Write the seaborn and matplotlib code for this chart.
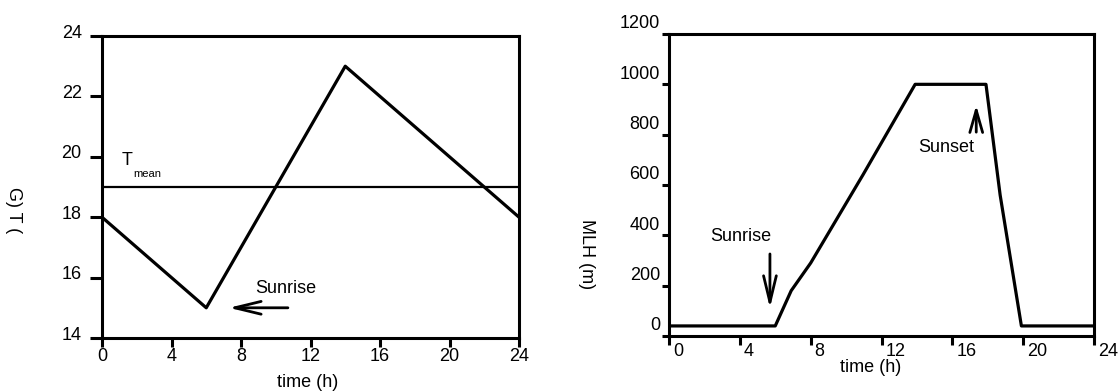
import matplotlib
matplotlib.use("Agg")
import seaborn as sns
import matplotlib.pyplot as plt
import matplotlib.transforms as mtransforms

# left panel: air temperature over the day
hours = list(range(25))
temp = [18, 17.5, 17, 16.5, 16, 15.5, 15, 16, 17, 18, 19, 20, 21, 22, 23,
        22.5, 22, 21.5, 21, 20.5, 20, 19.5, 19, 18.5, 18]
t_mean = 19

# right panel: mixing layer height
mlh_time = [0, 6.0, 6.9, 8.0, 10.95, 13.9, 17.9, 18.7, 19.9, 24]
mlh = [40, 40, 180, 290, 640, 1000, 1000, 560, 40, 40]

x_ticks = [0, 4, 8, 12, 16, 20, 24]
t_ticks = [14, 16, 18, 20, 22, 24]
mlh_ticks = [0, 200, 400, 600, 800, 1000, 1200]

sns.set_style("ticks")
plt.rcParams['font.family'] = ['Liberation Sans', 'DejaVu Sans']
for k in ('text.color', 'axes.labelcolor', 'xtick.color', 'ytick.color'):
    plt.rcParams[k] = 'black'

FS = 13
W, H = 1118, 391
fig = plt.figure(figsize=(W / 100, H / 100), dpi=100)
ax1 = fig.add_axes([102 / W, 1 - 338 / H, 417 / W, 302 / H])
ax2 = fig.add_axes([669 / W, 1 - 336 / H, 425 / W, 302 / H])


def shift(labels, dx, dy):
    off = mtransforms.ScaledTranslation(dx / 100, dy / 100, fig.dpi_scale_trans)
    for lab in labels:
        lab.set_transform(lab.get_transform() + off)


for ax in (ax1, ax2):
    for sp in ax.spines.values():
        sp.set_linewidth(2.2)
        sp.set_color('black')

arrow = dict(arrowstyle='->,head_length=0.95,head_width=0.23',
             color='black', lw=2, shrinkA=0, shrinkB=0, mutation_scale=20)

# ---- temperature ----
sns.lineplot(x=hours, y=temp, ax=ax1, color='black', lw=2.3)
ax1.axhline(t_mean, color='black', lw=1.6)
ax1.set_xlim(0, 24)
ax1.set_ylim(14, 24)
ax1.set_xticks(x_ticks)
ax1.set_yticks(t_ticks)
ax1.tick_params(axis='y', length=8.6, width=2.2, pad=6, labelsize=FS)
ax1.tick_params(axis='x', length=6.5, width=2.2, pad=1, labelsize=FS)
shift(ax1.get_yticklabels(), 0, 5)

ax1.text(1.15, 19.73, 'T', fontsize=FS)
ax1.text(1.8, 19.33, 'mean', fontsize=8)
ax1.annotate('', xy=(7.3, 15), xytext=(10.7, 15), arrowprops=arrow)
ax1.text(8.8, 15.5, 'Sunrise', fontsize=FS)

ax1.set_xlabel('time (h)', fontsize=FS, va='center')
ax1.xaxis.set_label_coords(0.492, -0.146)
ax1.set_ylabel('G) T (', fontsize=FS, rotation=270, ha='center', va='center',
               rotation_mode='default')
ax1.yaxis.set_label_coords(-0.213, 0.424)

# ---- mixing layer height ----
sns.lineplot(x=mlh_time, y=mlh, ax=ax2, color='black', lw=2.3)
ax2.set_xlim(0, 24)
ax2.set_ylim(0, 1200)
ax2.set_xticks(x_ticks)
ax2.set_yticks(mlh_ticks)
ax2.tick_params(axis='y', length=5, width=2.2, pad=1.5, labelsize=FS)
ax2.tick_params(axis='x', length=6.5, width=2.2, pad=-1.5, labelsize=FS)
for lab in ax2.get_xticklabels():
    lab.set_ha('left')
shift(ax2.get_xticklabels(), 4, 0)
shift(ax2.get_yticklabels(), 0, 12)

ax2.annotate('', xy=(5.7, 111), xytext=(5.7, 326), arrowprops=arrow)
ax2.text(2.3, 377, 'Sunrise', fontsize=FS)
ax2.annotate('', xy=(17.35, 917), xytext=(17.35, 810),
             arrowprops=dict(arrow, arrowstyle='->,head_length=0.8,head_width=0.23'))
ax2.text(14.06, 731, 'Sunset', fontsize=FS)

ax2.set_xlabel('time (h)', fontsize=FS, va='center')
ax2.xaxis.set_label_coords(0.475, -0.103)
ax2.set_ylabel('MLH (m)', fontsize=FS, rotation=270, ha='center', va='center',
               rotation_mode='default')
ax2.yaxis.set_label_coords(-0.193, 0.272)

fig.savefig('out.png', dpi=100)
